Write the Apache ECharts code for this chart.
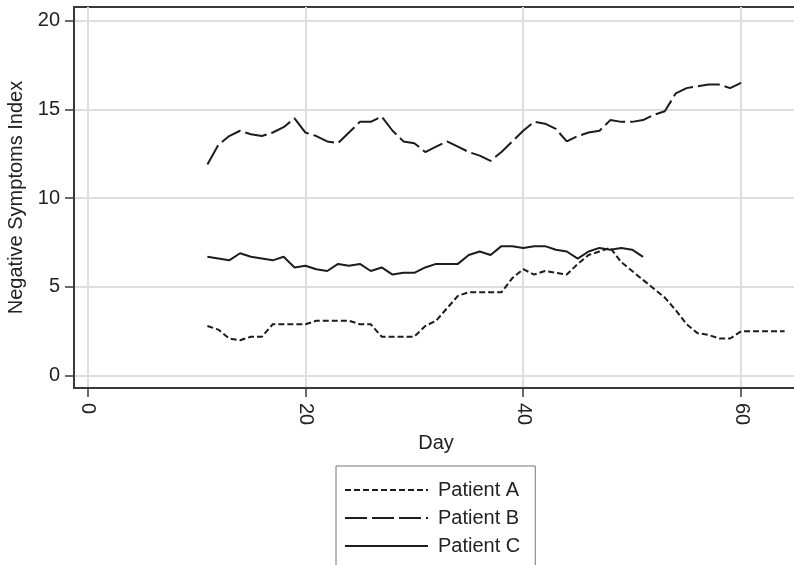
<!DOCTYPE html>
<html>
<head>
<meta charset="utf-8">
<script src="https://cdn.jsdelivr.net/npm/echarts@6/dist/echarts.min.js"></script>
<style>
html,body{margin:0;padding:0;background:#fff;}
#chart{width:794px;height:565px;}
</style>
</head>
<body>
<div id="chart"></div>
<script>
// Data
const days = [11,12,13,14,15,16,17,18,19,20,21,22,23,24,25,26,27,28,29,30,31,32,33,34,35,36,37,38,39,40,41,42,43,44,45,46,47,48,49,50,51,52,53,54,55,56,57,58,59,60,61,62,63,64];
const patientA = [2.8,2.6,2.1,2.0,2.2,2.2,2.9,2.9,2.9,2.9,3.1,3.1,3.1,3.1,2.9,2.9,2.2,2.2,2.2,2.2,2.8,3.1,3.8,4.5,4.7,4.7,4.7,4.7,5.5,6.0,5.7,5.9,5.8,5.7,6.3,6.8,7.0,7.2,6.4,5.9,5.4,4.9,4.4,3.7,2.9,2.4,2.3,2.1,2.1,2.5,2.5,2.5,2.5,2.5];
const patientB = [11.9,13.0,13.5,13.8,13.6,13.5,13.7,14.0,14.5,13.7,13.5,13.2,13.1,13.7,14.3,14.3,14.6,13.8,13.2,13.1,12.6,12.9,13.2,12.9,12.6,12.4,12.1,12.6,13.2,13.8,14.3,14.2,13.9,13.2,13.5,13.7,13.8,14.4,14.3,14.3,14.4,14.7,14.9,15.9,16.2,16.3,16.4,16.4,16.2,16.5];
const patientC = [6.7,6.6,6.5,6.9,6.7,6.6,6.5,6.7,6.1,6.2,6.0,5.9,6.3,6.2,6.3,5.9,6.1,5.7,5.8,5.8,6.1,6.3,6.3,6.3,6.8,7.0,6.8,7.3,7.3,7.2,7.3,7.3,7.1,7.0,6.6,7.0,7.2,7.1,7.2,7.1,6.7];
const seriesNames = ['Patient A','Patient B','Patient C'];
const xTicks = [0,20,40,60];
const yTicks = [0,5,10,15,20];

function pairs(vals){ return vals.map((v,i)=>[days[i], v]); }

const txt = '#222222';
const axisCol = '#3a3a3a';
const gridCol = '#dedede';
const font = 'Liberation Sans, Arial, sans-serif';

const chart = echarts.init(document.getElementById('chart'), null, {renderer:'canvas'});
chart.setOption({
  animation:false,
  backgroundColor:'#ffffff',
  grid:{left:74, top:7, width:724, height:381, outerBoundsMode:'none', containLabel:false, show:true, borderColor:axisCol, borderWidth:2, backgroundColor:'#ffffff'},
  xAxis:{
    type:'value', min:-1.25, max:65.23,
    name:'Day', nameLocation:'middle', nameGap:44,
    nameTextStyle:{fontSize:20, color:txt, fontFamily:font},
    axisLine:{show:true, onZero:false, lineStyle:{color:axisCol, width:2}},
    axisTick:{show:true, length:9, customValues:xTicks, lineStyle:{color:axisCol, width:1.5}},
    axisLabel:{customValues:xTicks, rotate:-90, margin:15, fontSize:20, color:txt, fontFamily:font},
    splitLine:{show:true, lineStyle:{color:gridCol, width:2}}
  },
  yAxis:{
    type:'value', min:-0.69, max:20.77,
    name:'Negative Symptoms Index', nameLocation:'middle', nameGap:46,
    nameTextStyle:{fontSize:20, color:txt, fontFamily:font},
    axisLine:{show:true, onZero:false, lineStyle:{color:axisCol, width:2}},
    axisTick:{show:true, length:9, customValues:yTicks, lineStyle:{color:axisCol, width:1.5}},
    axisLabel:{customValues:yTicks, margin:14, fontSize:20, color:txt, fontFamily:font},
    splitLine:{show:true, lineStyle:{color:gridCol, width:2}}
  },
  legend:{
    orient:'vertical', left:336, top:466, height:160,
    padding:[14,15,40,8],
    borderColor:'#777777', borderWidth:1,
    itemWidth:83, itemHeight:14, itemGap:8,
    itemStyle:{color:'rgba(0,0,0,0)', borderWidth:0, opacity:0},
    lineStyle:{width:2},
    textStyle:{fontSize:20, color:txt, fontFamily:font, padding:[0,0,0,5]},
    data:seriesNames
  },
  series:[
    {name:seriesNames[0], type:'line', data:pairs(patientA), symbol:'none', lineStyle:{color:'#1c1c1c', width:2, type:[6,3]}, itemStyle:{color:'#1c1c1c'}},
    {name:seriesNames[1], type:'line', data:pairs(patientB), symbol:'none', lineStyle:{color:'#1c1c1c', width:2, type:[22,5]}, itemStyle:{color:'#1c1c1c'}},
    {name:seriesNames[2], type:'line', data:pairs(patientC), symbol:'none', lineStyle:{color:'#1c1c1c', width:2, type:'solid'}, itemStyle:{color:'#1c1c1c'}}
  ]
});
</script>
</body>
</html>
